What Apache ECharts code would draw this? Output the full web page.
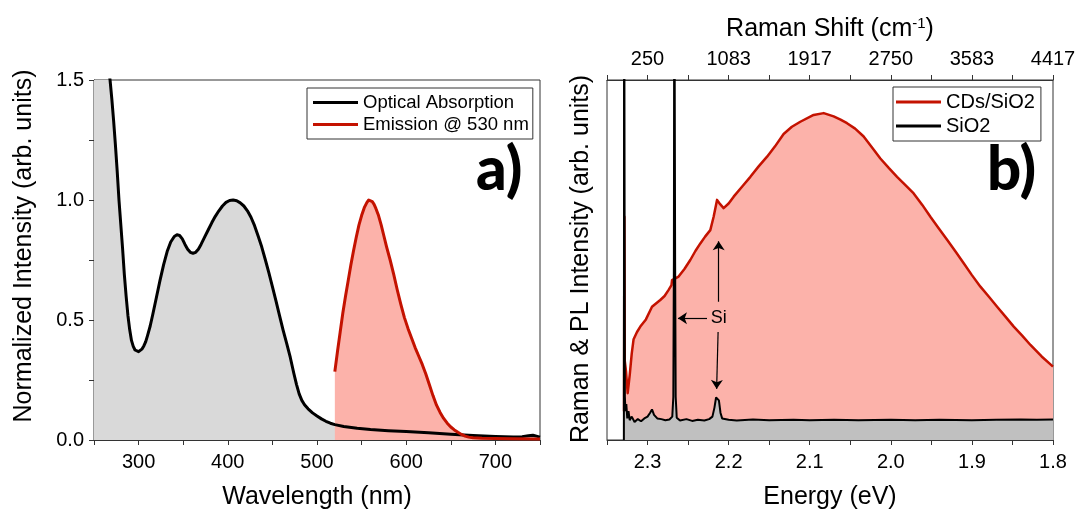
<!DOCTYPE html>
<html>
<head>
<meta charset="utf-8">
<script src="https://cdn.jsdelivr.net/npm/echarts@6/dist/echarts.min.js"></script>
<style>
html,body{margin:0;padding:0;background:#fff;}
#chart{width:1078px;height:511px;}
</style>
</head>
<body>
<div id="chart"></div>
<script>
// ---------- Panel a: wavelength data ----------
const absWavelength = [250,258,264,268,270,272,274,276,278,280,282,284,286,288,290,292,294,296,298,300,302,304,306,308,310,313,316,320,324,328,332,336,340,343,346,349,352,355,358,361,364,367,370,374,378,382,386,390,394,398,402,406,410,414,418,422,426,430,434,438,442,446,450,454,458,462,466,470,474,477,480,483,486,490,495,500,505,510,515,520,530,545,560,580,600,625,650,675,700,720,730,737,742,746,750];
const absValue = [2.0,1.8,1.62,1.5,1.42,1.33,1.23,1.12,1.0,0.9,0.8,0.69,0.6,0.52,0.46,0.415,0.39,0.375,0.369,0.368,0.372,0.38,0.393,0.41,0.435,0.475,0.525,0.595,0.665,0.73,0.785,0.825,0.848,0.855,0.852,0.838,0.815,0.795,0.782,0.778,0.782,0.795,0.815,0.845,0.875,0.905,0.932,0.955,0.975,0.99,0.998,1.0,0.997,0.988,0.975,0.955,0.928,0.893,0.85,0.805,0.752,0.697,0.639,0.58,0.518,0.458,0.403,0.345,0.278,0.232,0.192,0.165,0.147,0.13,0.113,0.1,0.088,0.078,0.07,0.064,0.056,0.049,0.044,0.039,0.035,0.03,0.024,0.019,0.015,0.013,0.014,0.018,0.02,0.016,0.012];
const emWavelength = [520,523,526,529,532,535,538,541,544,547,550,553,556,558,560,562,564,566,569,572,575,578,582,586,590,594,598,602,606,610,614,618,622,626,630,634,638,642,646,650,654,658,662,666,670,675,685,700,720,750];
const emValue = [0.285,0.37,0.45,0.53,0.6,0.665,0.73,0.79,0.845,0.895,0.935,0.968,0.99,1.0,1.0,0.993,0.982,0.965,0.935,0.895,0.85,0.805,0.75,0.69,0.625,0.565,0.51,0.465,0.425,0.385,0.35,0.315,0.275,0.23,0.185,0.145,0.115,0.09,0.07,0.054,0.042,0.032,0.023,0.016,0.012,0.009,0.007,0.006,0.005,0.004];

// ---------- Panel b: energy data ----------
const cdEnergy = [2.3290,2.3286,2.3281,2.3265,2.3245,2.3220,2.3195,2.3172,2.3130,2.3089,2.3020,2.2945,2.2843,2.2790,2.2740,2.2705,2.2698,2.2617,2.2545,2.2473,2.2410,2.2349,2.2290,2.2226,2.2185,2.2143,2.2105,2.2062,2.2000,2.1938,2.1830,2.1732,2.1630,2.1526,2.1430,2.1322,2.1220,2.1116,2.0952,2.0828,2.0705,2.0620,2.0540,2.0440,2.0335,2.0229,2.0129,2.0023,1.9923,1.9820,1.9718,1.9612,1.9512,1.9410,1.9306,1.9200,1.9101,1.9000,1.8895,1.8790,1.8689,1.8584,1.8484,1.8380,1.8278,1.8140,1.8000];
const cdValue = [8,62,22,19,13,18,24,28,30,31.5,33.5,37,38.9,40,41.7,43,44.4,45.4,47.5,50,52.5,54.6,56.5,58.3,62,66.7,65.5,64.4,65.7,67.6,70.5,73.1,76,78.7,81.5,85,87,88.4,90.3,90.8,89.9,89,88,86.5,84.3,81.2,78.2,75.5,73.1,70.8,68.5,65.3,62,58.8,55.6,52.3,49.1,45.8,42.6,39.8,37,34.2,31.5,29,26.4,23.2,20.4];
const sioEnergy = [2.3292,2.3288,2.3284,2.3280,2.3272,2.3262,2.3250,2.3235,2.3220,2.3195,2.3160,2.3120,2.3080,2.3040,2.3000,2.2970,2.2945,2.2920,2.2880,2.2830,2.2780,2.2730,2.2695,2.2682,2.2675,2.2670,2.2665,2.2660,2.2653,2.2640,2.2600,2.2520,2.2450,2.2380,2.2300,2.2240,2.2200,2.2175,2.2155,2.2140,2.2120,2.2100,2.2080,2.2000,2.1900,2.1700,2.1500,2.1200,2.1000,2.0700,2.0400,2.0000,1.9700,1.9400,1.9000,1.8700,1.8400,1.8200,1.8000];
const sioValue = [0,150,150,12,8,10,6,8,5.5,6.5,5,5.8,5.2,6,6.5,7.5,8.5,7,6,5.8,5.5,5.7,6.5,12,50,150,150,50,12,6.2,5.4,5.8,5.3,5.6,5.4,5.8,6.5,9,11.8,12,11,7.5,6,5.6,5.4,5.7,5.5,5.6,5.5,5.6,5.5,5.6,5.5,5.6,5.5,5.6,5.7,5.6,5.7];

// Tick settings
const wlMin = 250, wlMax = 750, wlStep = 50;
const eMin = 1.8, eMax = 2.35, eStep = 0.05;
const ramanMin = -166.6667, ramanMax = 4416.6667, ramanStep = 416.6667;

const zip = (a, b) => a.map((v, i) => [v, b[i]]);

const RED = '#c41200';
const PINK = '#fcb2aa';
const AXC = '#333';
const FONT = 'Liberation Sans';

const chart = echarts.init(document.getElementById('chart'), null, {renderer: 'canvas'});

const axisCommon = {
  axisLine: {show: true, lineStyle: {color: AXC, width: 1}},
  axisTick: {show: true, inside: false, length: 5, lineStyle: {color: AXC}},
  splitLine: {show: false},
  axisLabel: {color: '#000', fontSize: 20, fontFamily: FONT, margin: 12},
  nameTextStyle: {color: '#000', fontSize: 25, fontFamily: FONT}
};

const option = {
  animation: false,
  backgroundColor: '#fff',
  textStyle: {fontFamily: FONT},
  grid: [
    {left: 94, right: 538, top: 80, bottom: 71, show: true, borderColor: AXC, borderWidth: 1, backgroundColor: 'transparent', containLabel: false, outerBoundsMode: 'none'},
    {left: 607, right: 25, top: 80, bottom: 71, show: true, borderColor: AXC, borderWidth: 1, backgroundColor: 'transparent', containLabel: false, outerBoundsMode: 'none'}
  ],
  legend: [
    {
      data: ['Optical Absorption', 'Emission @ 530 nm'],
      orient: 'vertical', left: 307, top: 88,
      icon: 'rect', itemWidth: 45, itemHeight: 3, itemGap: 3,
      padding: [5, 4, 5, 6],
      borderColor: AXC, borderWidth: 1, borderRadius: 0, backgroundColor: '#fff',
      textStyle: {fontSize: 18.5, color: '#000', fontFamily: FONT},
      selectedMode: false
    },
    {
      data: ['CDs/SiO2', 'SiO2'],
      orient: 'vertical', left: 893, top: 87,
      icon: 'rect', itemWidth: 45, itemHeight: 3, itemGap: 4,
      padding: [5, 6, 5, 3],
      borderColor: AXC, borderWidth: 1, borderRadius: 0, backgroundColor: '#fff',
      textStyle: {fontSize: 20, color: '#000', fontFamily: FONT},
      selectedMode: false
    }
  ],
  xAxis: [
    Object.assign({}, axisCommon, {
      gridIndex: 0, type: 'value', position: 'bottom',
      min: wlMin, max: wlMax, interval: wlStep,
      name: 'Wavelength (nm)', nameLocation: 'middle', nameGap: 45,
      axisLabel: Object.assign({}, axisCommon.axisLabel, {
        formatter: v => (v % 100 === 0 && v > wlMin && v < wlMax) ? String(v) : ''
      })
    }),
    Object.assign({}, axisCommon, {
      gridIndex: 1, type: 'value', position: 'bottom', inverse: true,
      min: eMin, max: eMax, interval: eStep,
      name: 'Energy (eV)', nameLocation: 'middle', nameGap: 45,
      axisLabel: Object.assign({}, axisCommon.axisLabel, {
        formatter: v => (Math.abs(v * 10 - Math.round(v * 10)) < 1e-6) ? v.toFixed(1) : ''
      })
    }),
    Object.assign({}, axisCommon, {
      gridIndex: 1, type: 'value', position: 'top',
      min: ramanMin, max: ramanMax, interval: ramanStep,
      name: 'Raman Shift (cm{sup|-1})', nameLocation: 'middle', nameGap: 37,
      nameTextStyle: {color: '#000', fontSize: 25, fontFamily: FONT,
        rich: {sup: {fontSize: 15, fontFamily: FONT, color: '#000', padding: [0, 0, 12, 0]}}},
      axisLabel: Object.assign({}, axisCommon.axisLabel, {
        margin: 11,
        formatter: v => {
          const k = (v - 250) / 833.3333;
          return (Math.abs(k - Math.round(k)) < 1e-3) ? String(Math.round(v)) : '';
        }
      })
    })
  ],
  yAxis: [
    Object.assign({}, axisCommon, {
      gridIndex: 0, type: 'value', min: 0, max: 1.5, interval: 0.25,
      axisLabel: Object.assign({}, axisCommon.axisLabel, {
        margin: 10,
        formatter: v => (Math.abs(v * 2 - Math.round(v * 2)) < 1e-6) ? v.toFixed(1) : ''
      })
    }),
    Object.assign({}, axisCommon, {
      gridIndex: 1, type: 'value', min: 0, max: 100,
      axisTick: {show: false}, axisLabel: {show: false}
    })
  ],
  series: [
    // Panel a
    {name: 'absFill', type: 'line', xAxisIndex: 0, yAxisIndex: 0, data: zip(absWavelength, absValue),
     symbol: 'none', lineStyle: {width: 0, opacity: 0}, areaStyle: {color: '#d9d9d9', opacity: 1}, z: 1, silent: true},
    {name: 'emFill', type: 'line', xAxisIndex: 0, yAxisIndex: 0, data: zip(emWavelength, emValue),
     symbol: 'none', lineStyle: {width: 0, opacity: 0}, areaStyle: {color: PINK, opacity: 1}, z: 2, silent: true},
    {name: 'Optical Absorption', type: 'line', xAxisIndex: 0, yAxisIndex: 0, data: zip(absWavelength, absValue),
     symbol: 'none', color: '#000', lineStyle: {color: '#000', width: 3, join: 'round'}, z: 3},
    {name: 'Emission @ 530 nm', type: 'line', xAxisIndex: 0, yAxisIndex: 0, data: zip(emWavelength, emValue),
     symbol: 'none', color: RED, lineStyle: {color: RED, width: 3, join: 'round'}, z: 4},
    // Panel b
    {name: 'cdFill', type: 'line', xAxisIndex: 1, yAxisIndex: 1, data: zip(cdEnergy, cdValue),
     symbol: 'none', lineStyle: {width: 0, opacity: 0}, areaStyle: {color: PINK, opacity: 1}, z: 1, silent: true},
    {name: 'sioFill', type: 'line', xAxisIndex: 1, yAxisIndex: 1, data: zip(sioEnergy, sioValue),
     symbol: 'none', lineStyle: {width: 0, opacity: 0}, areaStyle: {color: '#c0c0c0', opacity: 1}, z: 2, silent: true},
    {name: 'CDs/SiO2', type: 'line', xAxisIndex: 1, yAxisIndex: 1, data: zip(cdEnergy, cdValue),
     symbol: 'none', color: RED, lineStyle: {color: RED, width: 2.5, join: 'round'}, z: 3},
    {name: 'SiO2', type: 'line', xAxisIndex: 1, yAxisIndex: 1, data: zip(sioEnergy, sioValue),
     symbol: 'none', color: '#000', lineStyle: {color: '#000', width: 2}, z: 4},
    // Si annotation
    {name: 'siNote', type: 'line', xAxisIndex: 1, yAxisIndex: 1, data: [[2.2123, 33.8]],
     symbol: 'none', lineStyle: {opacity: 0}, z: 5, silent: true,
     markLine: {
       silent: true, symbol: ['none', 'arrow'], symbolSize: 9,
       lineStyle: {color: '#000', width: 1.2, type: 'solid'},
       label: {show: false},
       data: [
         [{coord: [2.2267, 33.8]}, {coord: [2.2625, 33.8]}],
         [{coord: [2.2123, 38.4]}, {coord: [2.2123, 55.2]}],
         [{coord: [2.2130, 30.0]}, {coord: [2.2148, 14.2]}]
       ]
     },
     markPoint: {
       silent: true,
       data: [{coord: [2.2123, 33.8], symbol: 'rect', symbolSize: 1, itemStyle: {color: 'rgba(0,0,0,0)'},
               label: {show: true, formatter: 'Si', position: 'inside', color: '#000', fontSize: 18, fontFamily: FONT}}]
     }
    }
  ],
  graphic: [
    {type: 'text', x: 24, y: 246, rotation: Math.PI / 2,
     style: {text: 'Normalized Intensity (arb. units)', fontSize: 25, fontFamily: FONT, fill: '#000', textAlign: 'center', textVerticalAlign: 'middle'}},
    {type: 'text', x: 581, y: 259, rotation: Math.PI / 2,
     style: {text: 'Raman & PL Intensity (arb. units)', fontSize: 25, fontFamily: FONT, fill: '#000', textAlign: 'center', textVerticalAlign: 'middle'}},
    {type: 'text', x: 476, y: 171,
     style: {text: 'a)', fontSize: 60, fontWeight: 900, fontFamily: 'Lato', fill: '#000', textAlign: 'left', textVerticalAlign: 'middle'}},
    {type: 'text', x: 987, y: 171,
     style: {text: 'b)', fontSize: 60, fontWeight: 900, fontFamily: 'Lato', fill: '#000', textAlign: 'left', textVerticalAlign: 'middle'}}
  ]
};

chart.setOption(option);
</script>
</body>
</html>
